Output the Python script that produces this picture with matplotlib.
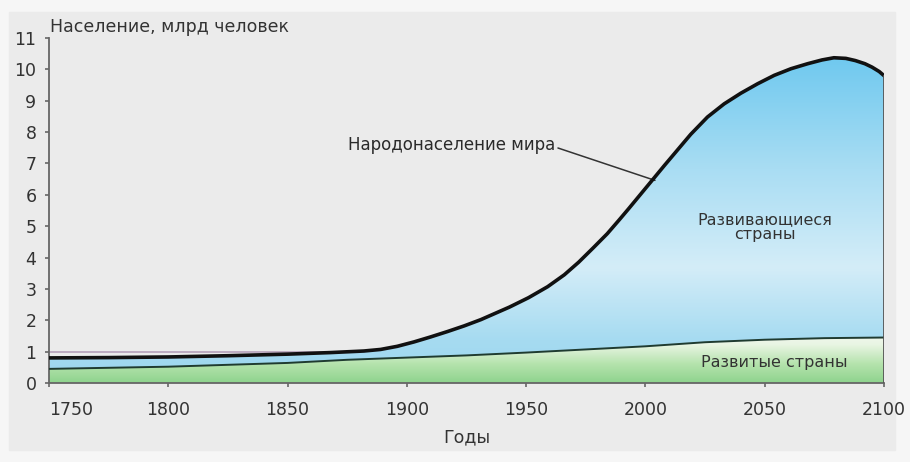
import matplotlib.pyplot as plt
import numpy as np
from matplotlib.colors import LinearSegmentedColormap
from matplotlib.patches import Rectangle

# Народонаселение мира, млрд
years_world = [1750, 1775, 1800, 1825, 1850, 1868, 1882, 1889, 1896, 1903, 1910,
               1917, 1924, 1931, 1943, 1951, 1959, 1966, 1972, 1978, 1984, 1989,
               1993, 1998, 2003, 2008, 2012, 2019, 2026, 2033, 2040, 2047, 2054,
               2061, 2068, 2074, 2079, 2084, 2088, 2092, 2095, 2098, 2100]
world = [0.80, 0.81, 0.83, 0.87, 0.92, 0.97, 1.02, 1.07, 1.17, 1.31, 1.47,
         1.64, 1.82, 2.02, 2.42, 2.72, 3.07, 3.45, 3.85, 4.30, 4.76, 5.20,
         5.56, 6.02, 6.48, 6.94, 7.30, 7.93, 8.48, 8.90, 9.24, 9.54, 9.81,
         10.02, 10.18, 10.30, 10.37, 10.35, 10.28, 10.18, 10.07, 9.93, 9.80]

# Развитые страны
years_dev = [1750, 1800, 1850, 1875, 1900, 1925, 1950, 1975, 2000, 2025, 2050, 2075, 2100]
developed = [0.45, 0.52, 0.64, 0.74, 0.81, 0.88, 0.97, 1.07, 1.17, 1.30, 1.38, 1.43, 1.45]

# бледная линия-артефакт на уровне 1 млрд
years_faint = [1750, 1880]
faint = [1.0, 1.0]

xticks = [1750, 1800, 1850, 1900, 1950, 2000, 2050, 2100]
yticks = list(range(0, 12))

fig = plt.figure(figsize=(9.1, 4.62), dpi=100, facecolor='#f6f6f6')
# серый фон картинки
bg = Rectangle((9 / 910, 12 / 462), 886 / 910, 438 / 462,
               transform=fig.transFigure, color='#ebebeb', zorder=-10)
fig.add_artist(bg)
ax = fig.add_axes([49 / 910, 79 / 462, 835 / 910, 345 / 462])
ax.set_zorder(1)
ax.set_facecolor('none')

xw = np.array(years_world, dtype=float)
yw = np.array(world)
xd = np.array(years_dev, dtype=float)
yd = np.array(developed)

# развивающиеся страны: голубой градиент
poly_x = np.concatenate([xw, xd[::-1]])
poly_y = np.concatenate([yw, yd[::-1]])
blue_patch = ax.fill(poly_x, poly_y, facecolor='none', edgecolor='none')[0]
cmap_b = LinearSegmentedColormap.from_list('b', [
    (0.0, '#9cd6ef'), (0.13, '#a6dbf1'), (0.35, '#d4edf8'),
    (0.65, '#a9ddf3'), (1.0, '#6dc8ef')])
grad = np.linspace(0, 1, 256).reshape(-1, 1)
im = ax.imshow(grad, cmap=cmap_b, origin='lower', aspect='auto',
               extent=[1750, 2100, 0, 10.5], zorder=1)
im.set_clip_path(blue_patch)

# развитые страны: зелёный градиент
green_patch = ax.fill(np.concatenate([xd, [2100, 1750]]),
                      np.concatenate([yd, [0, 0]]),
                      facecolor='none', edgecolor='none')[0]
cmap_g = LinearSegmentedColormap.from_list('g', [
    (0.0, '#8ed38d'), (0.4, '#b5e3ad'), (0.8, '#e9f5e3'), (1.0, '#f1f8ee')])
im2 = ax.imshow(grad, cmap=cmap_g, origin='lower', aspect='auto',
                extent=[1750, 2100, 0, 1.5], zorder=1)
im2.set_clip_path(green_patch)

ax.plot(years_faint, faint, color='#b9a6bd', lw=1.3, zorder=2)
ax.plot(xd, yd, color='#1f3b30', lw=1.4, zorder=3)
ax.plot(xw, yw, color='#111111', lw=2.6, zorder=4, solid_joinstyle='round')
ax.plot([2100, 2100], [0, world[-1]], color='#555555', lw=1.3, zorder=4)

ax.set_xlim(1750, 2100)
ax.set_ylim(0, 11)
ax.set_xticks(xticks)
ax.set_yticks(yticks)
for s in ['top', 'right']:
    ax.spines[s].set_visible(False)
for s in ['left', 'bottom']:
    ax.spines[s].set_color('#666666')
    ax.spines[s].set_linewidth(1.3)
ax.tick_params(axis='both', colors='#666666', labelcolor='#333333',
               labelsize=12.5, length=3, width=1.2)
ax.tick_params(axis='x', pad=10)
ax.tick_params(axis='y', pad=6)
ax.get_xticklabels()[0].set_ha('left')

ax.set_xlabel('Годы', fontsize=12.5, color='#333333', labelpad=7)
fig.text(50 / 910, 1 - 32 / 462, 'Население, млрд человек', fontsize=12.5,
         color='#333333', va='baseline', ha='left')

ax.annotate('Народонаселение мира', xy=(2004, 6.46), xytext=(1875.3, 7.58),
            fontsize=12, color='#2a2a2a', va='center', ha='left',
            arrowprops=dict(arrowstyle='-', color='#333333', lw=1.1,
                            shrinkA=0, shrinkB=0, relpos=(1.0, 0.4)))
ax.text(2050, 4.97, 'Развивающиеся\nстраны', fontsize=11.5, color='#333333',
        ha='center', va='center', linespacing=0.95)
ax.text(2053.8, 0.64, 'Развитые страны', fontsize=11.5, color='#333333',
        ha='center', va='center', zorder=5)

fig.savefig('out.png', dpi=100, facecolor=fig.get_facecolor())
